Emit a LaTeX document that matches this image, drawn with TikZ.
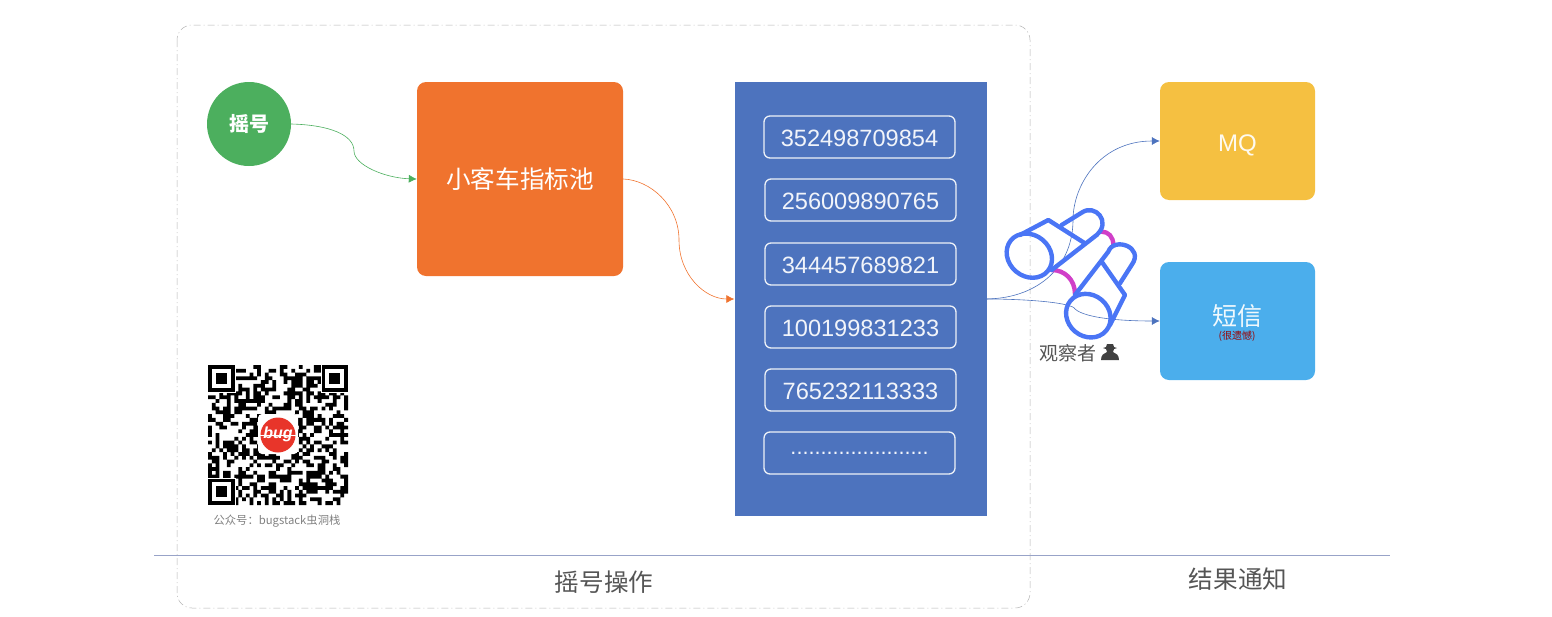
\documentclass[tikz,border=0pt]{standalone}
\usepackage{fontspec}
\setmainfont{Liberation Sans}
\newfontfamily\cjk{Noto Sans CJK SC}
\usetikzlibrary{arrows.meta}
\definecolor{qgreen}{HTML}{4CAF5E}
\definecolor{qorange}{HTML}{F0732E}
\definecolor{qblue}{HTML}{4D73BE}
\definecolor{qyellow}{HTML}{F5C041}
\definecolor{qsky}{HTML}{4BAEEC}
\definecolor{qscope}{HTML}{4A75F5}
\definecolor{qpink}{HTML}{D03FC8}
\definecolor{qtext}{HTML}{555555}
\definecolor{qrule}{HTML}{98A3C8}
\definecolor{qlogo}{HTML}{E8352A}
\tikzset{
  card/.style={rounded corners=9pt,inner sep=0pt,anchor=center},
  numbox/.style={draw=white!90!qblue,line width=1.3pt,rounded corners=6pt,minimum width=191pt,minimum height=42pt,
    inner sep=0pt,text=white!92!qblue,text height=19pt,text depth=0pt,font=\fontsize{23.6}{24}\selectfont},
  link/.style={line width=.6pt,-{Latex[length=8pt,width=8pt]}},
}
\begin{document}
\begin{tikzpicture}[x=1pt,y=-1pt]
\useasboundingbox (0,0) rectangle (1552,616);

\draw [line width=.5pt,gray!60,dash pattern=on 7pt off 3pt on 1pt off 3pt,rounded corners=15pt] (177,25) rectangle (1030,608);
\draw [line width=.8pt,qrule] (154,555) -- (1390,555);
\node (opname) [text=qtext,font=\cjk\fontsize{24.6}{25}\selectfont] at (604,582) {摇号操作};
\node (resname) [text=qtext,font=\cjk\fontsize{24.6}{25}\selectfont] at (1238,579) {结果通知};

\node (yao) [circle,fill=qgreen,minimum size=84pt,inner sep=0pt,text=white,font=\cjk\bfseries\fontsize{20}{20}\selectfont] at (249,124) {摇号};
\node (pool) [card,fill=qorange,minimum width=206pt,minimum height=194pt,text=white,font=\cjk\fontsize{24.6}{25}\selectfont] at (520,179) {小客车指标池};
\node (list) [fill=qblue,minimum width=252pt,minimum height=434pt,inner sep=0pt] at (860.5,299) {};
\node (mq) [card,fill=qyellow,minimum width=155pt,minimum height=118pt,text=white!92!qyellow,text height=21pt,text depth=0pt,font=\fontsize{24}{24}\selectfont] at (1237.5,141) {MQ};
\node (sms) [card,fill=qsky,minimum width=155pt,minimum height=118pt] at (1237.5,321) {};
\node (smsname) [text=white!92!qsky,font=\cjk\fontsize{25}{25}\selectfont] at (1237,316) {短信};
\node (smsnote) [text=red!60!black,font=\cjk\fontsize{10}{10}\selectfont] at (1237,336) {(很遗憾)};

\node (n1) [numbox] at (859.5,137) {352498709854};
\node (n2) [numbox] at (860.5,200) {256009890765};
\node (n3) [numbox] at (860.5,264) {344457689821};
\node (n4) [numbox] at (860.5,327) {100199831233};
\node (n5) [numbox] at (860.5,390) {765232113333};
\node (n6) [numbox,text height=2pt,font=\fontsize{21.6}{22}\selectfont] at (859.5,453) {.......................};

\draw [link,qgreen] (yao.east) .. controls (330,125) and (354,135) .. (354,151) .. controls (354,165) and (385,178) .. (pool.west);
\draw [link,qorange] (pool.east) .. controls (650,180) and (679,205) .. (679,240) .. controls (679,275) and (705,299) .. (list.west);
\draw [link,qblue] (list.east) .. controls (1040,298) and (1073,265) .. (1073,220) .. controls (1073,185) and (1100,141) .. (mq.west);
\draw [link,qblue] (list.east) .. controls (1030,299) and (1073,303) .. (1075,309) .. controls (1085,318) and (1120,321) .. (sms.west);

% binoculars
\begin{scope}[shift={(980,190)},x=.3333pt,y=-.3333pt,line width=4.4pt,qscope,line join=round,line cap=round]
\draw [qpink] (215,240) .. controls (255,240) and (285,270) .. (285,312);
\draw [qpink] (365,125) .. controls (385,125) and (400,140) .. (400,165);
\draw [rotate around={-40:(148,197)}] (148,197) ellipse (72 and 62);
\draw [rotate around={-40:(325,377)}] (325,377) ellipse (70 and 62);
\draw (120,135) -- (205,90) -- (315,160);
\draw (245,105) -- (305,68) .. controls (345,40) and (395,95) .. (350,135) -- (215,240);
\draw (285,315) -- (385,185) .. controls (400,140) and (495,170) .. (455,225) -- (420,280);
\draw (365,215) -- (435,315) -- (390,405);
\end{scope}

\node (watch) [text=qtext,font=\cjk\fontsize{19}{19}\selectfont] at (1068,353) {观察者};
% spy icon
\fill [black!75] (1101,360) .. controls (1101,355) and (1104,353) .. (1107,352) -- (1106,349) -- (1103,348) -- (1106,347) -- (1107,344) -- (1113,344) -- (1114,347) -- (1117,348) -- (1114,349) -- (1113,352) .. controls (1116,353) and (1119,355) .. (1119,360) -- cycle;

% qr code
\pgfmathsetseed{4711}
\fill [black] foreach \i in {0,...,36} { foreach \j in {0,...,36} {
  \pgfextra{\pgfmathsetmacro{\qrbit}{rnd<0.5 ? 1 : 0}}
  \ifnum\qrbit=1 (208+\i*3.784,365+\j*3.784) rectangle ++(3.784,3.784) \fi } };
\foreach \qx/\qy in {208/365,321.5/365,208/478.5} {
  \fill [white] (\qx-1,\qy-1) rectangle ++(29,29);
  \fill [black] (\qx,\qy) rectangle ++(26.5,26.5);
  \fill [white] (\qx+3.8,\qy+3.8) rectangle ++(18.9,18.9);
  \fill [black] (\qx+7.6,\qy+7.6) rectangle ++(11.3,11.3);
}
\fill [white,rounded corners=4pt] (258,414) rectangle (298,454);
\node (logo) [circle,fill=qlogo,minimum size=35pt,inner sep=0pt] at (278,435) {};
\draw [white,line width=.6pt] (logo.west) -- (logo.east);
\node (bugname) [text=white,font=\bfseries\itshape\fontsize{16}{16}\selectfont] at (278,434) {bug};
\node (qrname) [text=gray,font=\cjk\fontsize{11.3}{12}\selectfont] at (277,521) {公众号：bugstack虫洞栈};

\end{tikzpicture}
\end{document}
